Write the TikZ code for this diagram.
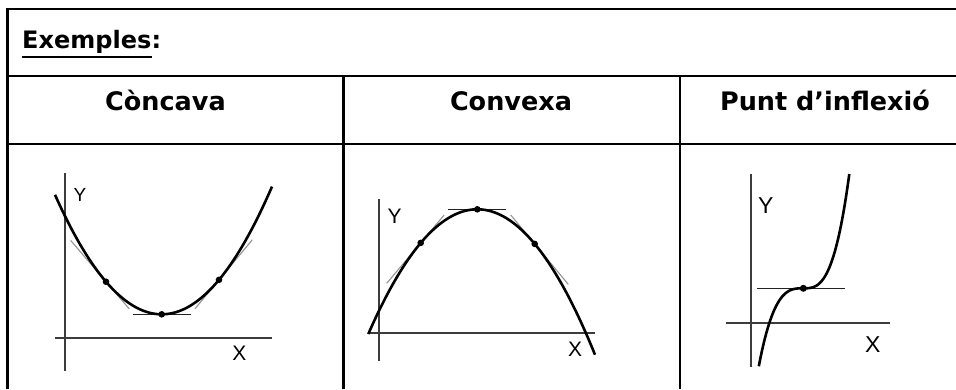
\documentclass[tikz,border=0pt]{standalone}
\usepackage{fontspec}
\setmainfont{DejaVu Sans}
\newfontfamily\axisfont{Liberation Sans}
\usepackage{tikz}
\usetikzlibrary{calc}
\definecolor{cRule}   {HTML}{000000}
\definecolor{cAxis}   {HTML}{3C3C3C}
\definecolor{cFlat}   {HTML}{222222}
\definecolor{cTangent}{HTML}{949494}

\begin{document}
\begin{tikzpicture}[x=1pt, y=-1pt,
    rule/.style={draw=cRule, line width=2.8pt},
    head/.style={font=\bfseries\fontsize{25.5}{30}\selectfont, inner sep=0pt, anchor=base},
    axis/.style={draw=cAxis, line width=1.8pt},
    curve/.style={draw=black, line width=2.6pt},
    flat/.style={draw=cFlat, line width=1.5pt},
    tangent/.style={draw=cTangent, line width=1.1pt},
    lbl/.style={font=\axisfont\fontsize{#1}{#1}\selectfont, inner sep=0pt},
  ]
  \useasboundingbox (0,0) rectangle (956,389);

  % table
  \draw[rule, line join=miter] (7.7,389) -- (7.7,9) -- (956,9);
  \foreach \yy in {76,144} \draw[rule] (7.7,\yy) -- (956,\yy);
  \foreach \xx in {343.7,680} \draw[rule] (\xx,76) -- (\xx,389);

  \node[font=\bfseries\fontsize{24}{28}\selectfont, inner sep=0pt, anchor=base west]
        (exemples) at (22,48) {Exemples};
  \node[font=\bfseries\fontsize{24}{28}\selectfont, inner sep=0pt, anchor=base west]
        (colon) at (exemples.base east) {:};
  \draw[line width=2.4pt] ($(exemples.base west)+(0,9)$) -- ($(exemples.base east)+(0,9)$);

  \node[head] (hConcava) at (165.5,110.5) {Còncava};
  \node[head] (hConvexa) at (511,110.5) {Convexa};
  \node[head] (hInflex)  at (825,110.5) {Punt d’inflexió};

  % concava
  \draw[axis] (65.3,173) -- (65.3,371);
  \draw[axis] (55,338.3) -- (272,338.3);
  \node[lbl=19] (yConcava) at (80,194.5) {Y};
  \node[lbl=21] (xConcava) at (239.5,353.3) {X};
  \foreach \u/\ta/\tb/\sty in {-55.7/-91/-32.4/tangent, 0/-28.7/29/flat, 57.3/33.3/90.6/tangent}{
    \draw[\sty] ({161.7+\ta},{314.3-0.0105*(\u)*(\u)-2*0.0105*(\u)*(\ta-(\u))})
             -- ({161.7+\tb},{314.3-0.0105*(\u)*(\u)-2*0.0105*(\u)*(\tb-(\u))});
  }
  \draw[curve] plot[domain=55:272, samples=90, smooth]
        (\x, {314.3-0.0105*(\x-161.7)*(\x-161.7)});
  \foreach \u in {-55.7,0,57.3}
    \fill ({161.7+\u},{314.3-0.0105*(\u)*(\u)}) circle[radius=3.3pt];

  % convexa
  \draw[axis] (379.3,199.3) -- (379.3,360.7);
  \draw[axis] (368.3,332.7) -- (595,332.7);
  \node[lbl=21] (yConvexa) at (394.5,215.8) {Y};
  \node[lbl=21] (xConvexa) at (575,349.2) {X};
  \foreach \u/\ta/\tb/\sty in {-56.6/-90.6/-33.3/tangent, 0/-29/28.7/flat, 57.4/33.4/91/tangent}{
    \draw[\sty] ({477.3+\ta},{209.3+0.0105*(\u)*(\u)+2*0.0105*(\u)*(\ta-(\u))})
             -- ({477.3+\tb},{209.3+0.0105*(\u)*(\u)+2*0.0105*(\u)*(\tb-(\u))});
  }
  \draw[curve] plot[domain=368.3:595, samples=90, smooth]
        (\x, {209.3+0.0105*(\x-477.3)*(\x-477.3)});
  \foreach \u in {-56.6,0,57.4}
    \fill ({477.3+\u},{209.3+0.0105*(\u)*(\u)}) circle[radius=3.3pt];

  % inflexio
  \draw[axis] (751.2,174) -- (751.2,366.7);
  \draw[axis] (726,323.3) -- (890,323.3);
  \node[lbl=23] (yInflex) at (765.7,205.8) {Y};
  \node[lbl=23] (xInflex) at (872.8,345) {X};
  \draw[flat] (757.3,288.3) -- (845,288.3);
  \draw[curve] plot[domain=758.8:849.3, samples=90, smooth]
        (\x, {288.3-((\x<803.3) ? 0.00088 : 0.00118)*(\x-803.3)*(\x-803.3)*(\x-803.3)});
  \fill (803.3,288.3) circle[radius=3.5pt];
\end{tikzpicture}
\end{document}
